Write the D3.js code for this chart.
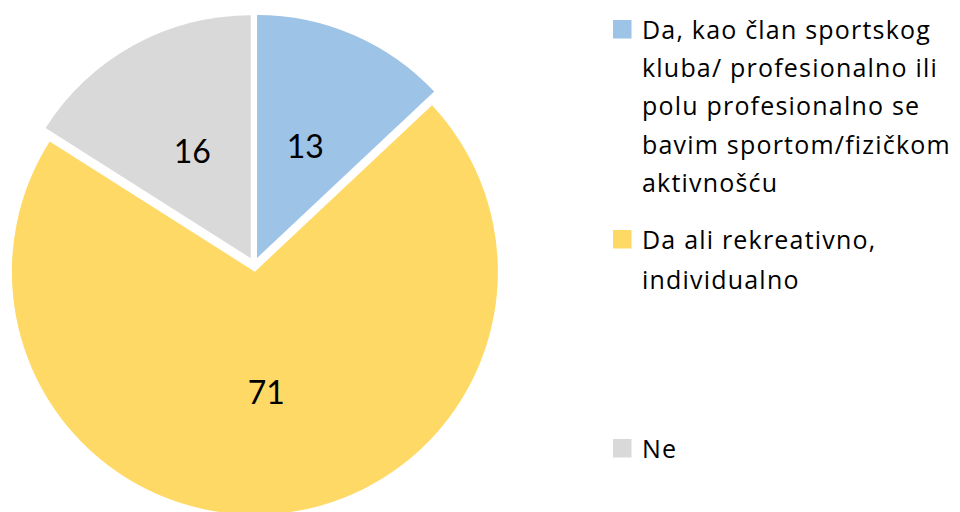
<!DOCTYPE html>
<html>
<head>
<meta charset="utf-8">
<script src="https://cdn.jsdelivr.net/npm/d3@7"></script>
<style>
  html, body { margin: 0; padding: 0; background: #fff; }
  svg { display: block; }
</style>
</head>
<body>
<svg id="chart" width="960" height="512"></svg>
<script>
const categories = [
  "Da, kao član sportskog kluba/ profesionalno ili polu profesionalno se bavim sportom/fizičkom aktivnošću",
  "Da ali rekreativno, individualno",
  "Ne"
];
const values = [13, 71, 16];
const colors = ["#9DC3E6", "#FFD966", "#D9D9D9"];
const legendLines = [
  ["Da, kao član sportskog", "kluba/ profesionalno ili", "polu profesionalno se", "bavim sportom/fizičkom", "aktivnošću"],
  ["Da ali rekreativno,", "individualno"],
  ["Ne"]
];

const svg = d3.select("#chart");
const cx = 254.2, cy = 264.5, R = 243, explode = 7.2;

const pie = d3.pie().sort(null).value(d => d.value).startAngle(0).endAngle(2 * Math.PI);
const arcs = pie(categories.map((c, i) => ({ name: c, value: values[i], color: colors[i] })));
const arc = d3.arc().innerRadius(0).outerRadius(R);

const g = svg.append("g").attr("transform", `translate(${cx},${cy})`);

const slice = g.selectAll("g.slice").data(arcs).join("g")
  .attr("class", "slice")
  .attr("transform", d => {
    const a = (d.startAngle + d.endAngle) / 2;
    return `translate(${explode * Math.sin(a)},${-explode * Math.cos(a)})`;
  });

slice.append("path")
  .attr("d", arc)
  .attr("fill", d => d.data.color);

slice.append("text")
  .attr("x", d => { const a = (d.startAngle + d.endAngle) / 2; return 0.5 * R * Math.sin(a); })
  .attr("y", d => { const a = (d.startAngle + d.endAngle) / 2; return -0.5 * R * Math.cos(a); })
  .attr("dy", "0.36em")
  .attr("text-anchor", "middle")
  .attr("font-family", "Lato, 'Open Sans', sans-serif")
  .attr("font-size", 32)
  .attr("fill", "#000")
  .text(d => d.data.value);

// legend
const legendTop = [20, 230, 439];
const lineH = 38.4;
const leg = svg.append("g")
  .attr("font-family", "'Open Sans', sans-serif")
  .attr("font-size", 25)
  .attr("letter-spacing", 1.2)
  .attr("fill", "#000");
legendLines.forEach((lines, i) => {
  const item = leg.append("g");
  item.append("rect")
    .attr("x", 613).attr("y", legendTop[i])
    .attr("width", 18.5).attr("height", 18.5)
    .attr("fill", colors[i]);
  lines.forEach((ln, j) => {
    item.append("text")
      .attr("x", 642)
      .attr("y", legendTop[i] + 18.5 + j * (i === 1 ? 40 : lineH))
      .text(ln);
  });
});
</script>
</body>
</html>
